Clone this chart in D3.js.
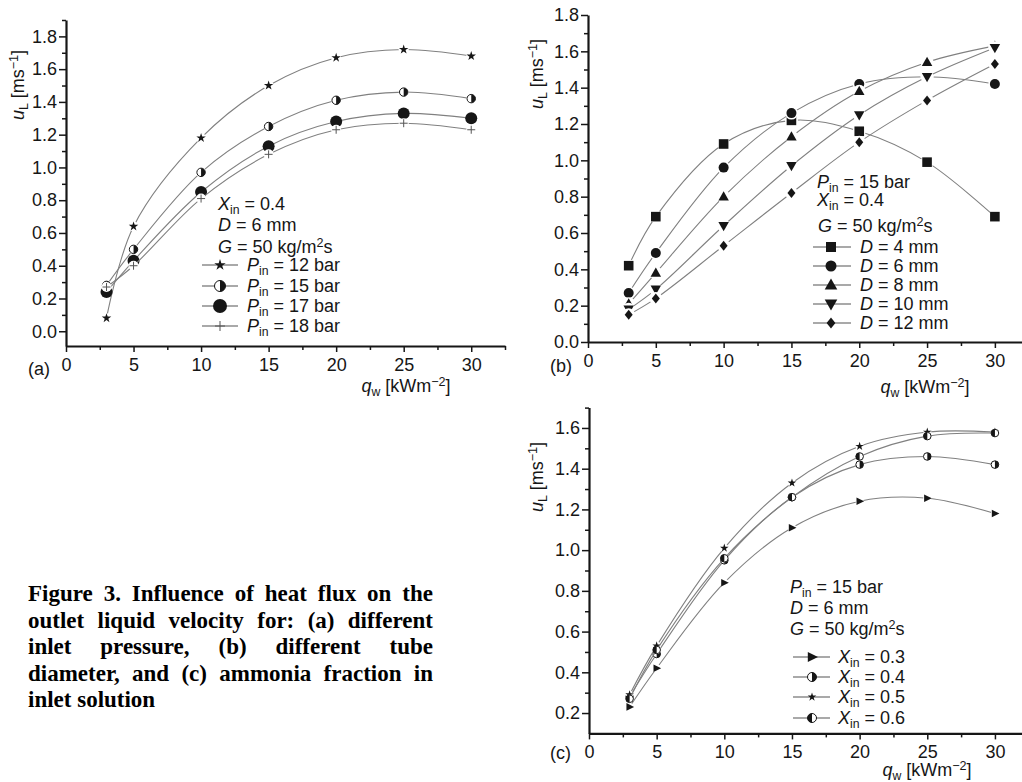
<!DOCTYPE html>
<html>
<head>
<meta charset="utf-8">
<script src="https://cdn.jsdelivr.net/npm/d3@7"></script>
<style>
  body { margin: 0; background: #fff; }
  svg { display: block; font-family: "Liberation Sans", Arial, sans-serif; }
</style>
</head>
<body>
<svg id="chart" width="1022" height="782"></svg>
<script>
// heat flux values, kW/m2
const qw = [3, 5, 10, 15, 20, 25, 30];

// (a) inlet pressure
const pinLabels = ["12", "15", "17", "18"];
const uPin12 = [0.08, 0.64, 1.18, 1.50, 1.67, 1.72, 1.68];
const uPin15 = [0.28, 0.50, 0.97, 1.25, 1.41, 1.46, 1.42];
const uPin17 = [0.24, 0.43, 0.85, 1.13, 1.28, 1.33, 1.30];
const uPin18 = [0.27, 0.40, 0.81, 1.08, 1.23, 1.27, 1.23];

// (b) tube diameter
const dLabels = ["4", "6", "8", "10", "12"];
const uD4 = [0.42, 0.69, 1.09, 1.22, 1.16, 0.99, 0.69];
const uD6 = [0.27, 0.49, 0.96, 1.26, 1.42, 1.46, 1.42];
const uD8 = [0.21, 0.38, 0.80, 1.13, 1.38, 1.54, 1.63];
const uD10 = [0.18, 0.29, 0.64, 0.97, 1.25, 1.46, 1.62];
const uD12 = [0.15, 0.24, 0.53, 0.82, 1.10, 1.33, 1.53];

// (c) ammonia fraction
const xLabels = ["0.3", "0.4", "0.5", "0.6"];
const uX03 = [0.23, 0.42, 0.84, 1.11, 1.24, 1.255, 1.18];
const uX04 = [0.28, 0.49, 0.95, 1.26, 1.42, 1.46, 1.42];
const uX05 = [0.29, 0.53, 1.01, 1.33, 1.51, 1.58, 1.58];
const uX06 = [0.27, 0.51, 0.96, 1.26, 1.46, 1.56, 1.575];

const captionLines = [
  "Figure 3. Influence of heat flux on the",
  "outlet liquid velocity for: (a) different",
  "inlet pressure, (b) different tube",
  "diameter, and (c) ammonia fraction in",
  "inlet solution"
];

const svg = d3.select("#chart");
const INK = "#161616";
const LINE = "#808080";

// text with italic / sub / sup parts
function rich(g, x, y, parts, size) {
  size = size || 18;
  const t = g.append("text").attr("x", x).attr("y", y)
    .attr("font-size", size).attr("fill", INK);
  let shift = 0;
  parts.forEach(p => {
    const s = t.append("tspan").text(p.t);
    let want = 0;
    if (p.sub) { want = 3.5; s.attr("font-size", size * 0.68); }
    if (p.sup) { want = -6; s.attr("font-size", size * 0.7); }
    if (want - shift !== 0) s.attr("dy", want - shift);
    shift = want;
    if (p.it) s.attr("font-style", "italic");
  });
  return t;
}

function marker(g, type, x, y, h) {
  const m = g.append("g").attr("transform", `translate(${x},${y})`);
  if (type === "circle") {
    m.append("circle").attr("r", h).attr("fill", INK);
  } else if (type === "half" || type === "halfL") {
    m.append("circle").attr("r", h).attr("fill", "#fff").attr("stroke", INK).attr("stroke-width", 1);
    const d = type === "half"
      ? `M0,${-h}A${h},${h} 0 0 1 0,${h}Z`
      : `M0,${-h}A${h},${h} 0 0 0 0,${h}Z`;
    m.append("path").attr("d", d).attr("fill", INK);
  } else if (type === "star") {
    m.append("path").attr("d", d3.symbol(d3.symbolStar, h * h / 0.89)()).attr("fill", INK);
  } else if (type === "plus") {
    m.append("path").attr("d", `M${-h},0H${h}M0,${-h}V${h}`).attr("stroke", "#555").attr("stroke-width", 1);
  } else {
    let d;
    if (type === "square") d = `M${-h},${-h}h${2 * h}v${2 * h}h${-2 * h}Z`;
    if (type === "triUp") d = `M0,${-h * 1.1}L${h * 1.05},${h * 0.75}L${-h * 1.05},${h * 0.75}Z`;
    if (type === "triDown") d = `M0,${h * 1.1}L${h * 1.05},${-h * 0.75}L${-h * 1.05},${-h * 0.75}Z`;
    if (type === "triRight") d = `M${h},0L${-h * 0.7},${-h * 0.85}L${-h * 0.7},${h * 0.85}Z`;
    if (type === "diamond") d = `M0,${-h}L${h * 0.8},0L0,${h}L${-h * 0.8},0Z`;
    m.append("path").attr("d", d).attr("fill", INK);
  }
}

const panels = [
  {
    tag: "(a)", tagX: 28, tagY: 375,
    xRange: [66, 505], xDomain: [0, 32.5],
    yRange: [346, 20], yDomain: [-0.09, 1.9],
    yMajor: d3.range(0, 1.81, 0.2), yMinor: d3.range(0.1, 1.91, 0.2),
    xMinor: d3.range(2.5, 32.6, 5),
    yTitle: [24, 85], xTitle: [406, 392],
    halo: 5,
    series: [
      { vals: uPin12, type: "star", h: 5, lab: pinLabels[0] },
      { vals: uPin15, type: "half", h: 4.2, lab: pinLabels[1] },
      { vals: uPin17, type: "circle", h: 6, lab: pinLabels[2] },
      { vals: uPin18, type: "plus", h: 4, lab: pinLabels[3] }
    ],
    notes: [
      [218, 210, [{ t: "X", it: 1 }, { t: "in", sub: 1 }, { t: " = 0.4" }]],
      [218, 231, [{ t: "D", it: 1 }, { t: " = 6 mm" }]],
      [218, 253, [{ t: "G", it: 1 }, { t: " = 50 kg/m" }, { t: "2", sup: 1 }, { t: "s" }]]
    ],
    leg: { x1: 202, x2: 238, xs: 220, xt: 247, rows: [265, 286, 306, 326], legH: [6, 5.5, 7, 5] },
    legText: l => [{ t: "P", it: 1 }, { t: "in", sub: 1 }, { t: " = " + l + " bar" }]
  },
  {
    tag: "(b)", tagX: 550, tagY: 372,
    xRange: [588, 1022], xDomain: [0, 32],
    yRange: [342, 15], yDomain: [0, 1.8],
    yMajor: d3.range(0, 1.81, 0.2), yMinor: d3.range(0.1, 1.71, 0.2),
    xMinor: d3.range(2.5, 30, 5),
    yTitle: [543, 74], xTitle: [925, 393],
    halo: 6.5,
    series: [
      { vals: uD4, type: "square", h: 4.8, lab: dLabels[0] },
      { vals: uD6, type: "circle", h: 5, lab: dLabels[1] },
      { vals: uD8, type: "triUp", h: 5, lab: dLabels[2] },
      { vals: uD10, type: "triDown", h: 5, lab: dLabels[3] },
      { vals: uD12, type: "diamond", h: 5, lab: dLabels[4] }
    ],
    notes: [
      [817, 188, [{ t: "P", it: 1 }, { t: "in", sub: 1 }, { t: " = 15 bar" }]],
      [817, 206, [{ t: "X", it: 1 }, { t: "in", sub: 1 }, { t: " = 0.4" }]],
      [818, 232, [{ t: "G", it: 1 }, { t: " = 50 kg/m" }, { t: "2", sup: 1 }, { t: "s" }]]
    ],
    leg: { x1: 813, x2: 851, xs: 831, xt: 860, rows: [247, 266, 285, 304, 323], legH: [5, 5.5, 6, 6, 5.5] },
    legText: l => [{ t: "D", it: 1 }, { t: " = " + l + " mm" }]
  },
  {
    tag: "(c)", tagX: 550, tagY: 759,
    xRange: [589, 1022], xDomain: [0, 32],
    yRange: [733.4, 407.6], yDomain: [0.1, 1.7],
    yMajor: d3.range(0.2, 1.61, 0.2), yMinor: d3.range(0.3, 1.71, 0.2),
    xMinor: d3.range(2.5, 30, 5),
    yTitle: [543, 477], xTitle: [927, 776],
    halo: 4,
    series: [
      { vals: uX03, type: "triRight", h: 4.5, lab: xLabels[0] },
      { vals: uX04, type: "half", h: 3.8, lab: xLabels[1] },
      { vals: uX05, type: "star", h: 4.5, lab: xLabels[2] },
      { vals: uX06, type: "halfL", h: 3.8, lab: xLabels[3] }
    ],
    notes: [
      [790, 593, [{ t: "P", it: 1 }, { t: "in", sub: 1 }, { t: " = 15 bar" }]],
      [790, 614, [{ t: "D", it: 1 }, { t: " = 6 mm" }]],
      [790, 635, [{ t: "G", it: 1 }, { t: " = 50 kg/m" }, { t: "2", sup: 1 }, { t: "s" }]]
    ],
    leg: { x1: 793, x2: 830, xs: 812, xt: 838, rows: [657, 677, 697, 718], legH: [6, 4.5, 4.5, 4.5] },
    legText: l => [{ t: "X", it: 1 }, { t: "in", sub: 1 }, { t: " = " + l }]
  }
];

panels.forEach(p => {
  const g = svg.append("g");
  const x = d3.scaleLinear().domain(p.xDomain).range(p.xRange);
  const y = d3.scaleLinear().domain(p.yDomain).range(p.yRange);
  const x0 = p.xRange[0], y0 = p.yRange[0];

  // curves + markers, series by series
  const line = d3.line().x((d, i) => x(qw[i])).y(d => y(d)).curve(d3.curveCatmullRom.alpha(0.5));
  p.series.forEach(s => {
    g.append("path").attr("d", line(s.vals)).attr("fill", "none")
      .attr("stroke", LINE).attr("stroke-width", 1.1);
    s.vals.forEach((v, i) => {
      g.append("circle").attr("cx", x(qw[i])).attr("cy", y(v)).attr("r", p.halo).attr("fill", "#fff");
    });
    s.vals.forEach((v, i) => marker(g, s.type, x(qw[i]), y(v), s.h));
  });

  // axes
  g.append("g").attr("transform", `translate(${x0},0)`)
    .call(d3.axisLeft(y).tickValues(p.yMajor).tickFormat(d3.format(".1f")).tickSize(7).tickSizeOuter(0).tickPadding(2));
  g.append("g").attr("transform", `translate(${x0},0)`)
    .call(d3.axisLeft(y).tickValues(p.yMinor).tickFormat("").tickSize(4).tickSizeOuter(0))
    .call(a => a.select(".domain").remove());
  g.append("g").attr("transform", `translate(0,${y0})`)
    .call(d3.axisBottom(x).tickValues(d3.range(0, 31, 5)).tickFormat(d3.format("d")).tickSize(6).tickSizeOuter(0).tickPadding(6));
  g.append("g").attr("transform", `translate(0,${y0})`)
    .call(d3.axisBottom(x).tickValues(p.xMinor).tickFormat("").tickSize(4).tickSizeOuter(0))
    .call(a => a.select(".domain").remove());
  g.selectAll(".domain").attr("stroke", INK).attr("stroke-width", 2.2);
  g.selectAll(".tick line").attr("stroke", INK).attr("stroke-width", 1.5);
  g.selectAll(".tick text").attr("font-size", 18).attr("fill", INK)
    .attr("font-family", '"Liberation Sans", Arial, sans-serif');

  // titles
  rich(g, 0, 0, [{ t: "u", it: 1 }, { t: "L", sub: 1 }, { t: " [ms" }, { t: "−1", sup: 1 }, { t: "]" }])
    .attr("text-anchor", "middle")
    .attr("transform", `translate(${p.yTitle[0]},${p.yTitle[1]}) rotate(-90)`);
  rich(g, p.xTitle[0], p.xTitle[1], [{ t: "q", it: 1 }, { t: "w", sub: 1 }, { t: " [kWm" }, { t: "−2", sup: 1 }, { t: "]" }])
    .attr("text-anchor", "middle");
  rich(g, p.tagX, p.tagY, [{ t: p.tag }]);

  // notes
  p.notes.forEach(n => rich(g, n[0], n[1], n[2]));

  // legend
  p.series.forEach((s, i) => {
    const ry = p.leg.rows[i];
    g.append("line").attr("x1", p.leg.x1).attr("x2", p.leg.x2).attr("y1", ry).attr("y2", ry)
      .attr("stroke", "#555").attr("stroke-width", 1.1);
    marker(g, s.type, p.leg.xs, ry, p.leg.legH[i]);
    rich(g, p.leg.xt, ry + 6, p.legText(s.lab));
  });
});

// caption, justified like the source
const cap = svg.append("g").attr("font-family", '"Liberation Serif", "Times New Roman", serif')
  .attr("font-weight", "bold").attr("font-size", 23).attr("fill", "#000");
const capX = 28, capW = 405;
captionLines.forEach((ln, li) => {
  const yy = 601 + li * 26.5;
  const words = ln.split(" ");
  if (li === captionLines.length - 1) {
    cap.append("text").attr("x", capX).attr("y", yy).text(ln);
    return;
  }
  const nodes = words.map(w => cap.append("text").attr("y", yy).text(w));
  const widths = nodes.map(n => n.node().getComputedTextLength());
  const gap = (capW - d3.sum(widths)) / (words.length - 1);
  let cx = capX;
  nodes.forEach((n, i) => { n.attr("x", cx); cx += widths[i] + gap; });
});
</script>
</body>
</html>
